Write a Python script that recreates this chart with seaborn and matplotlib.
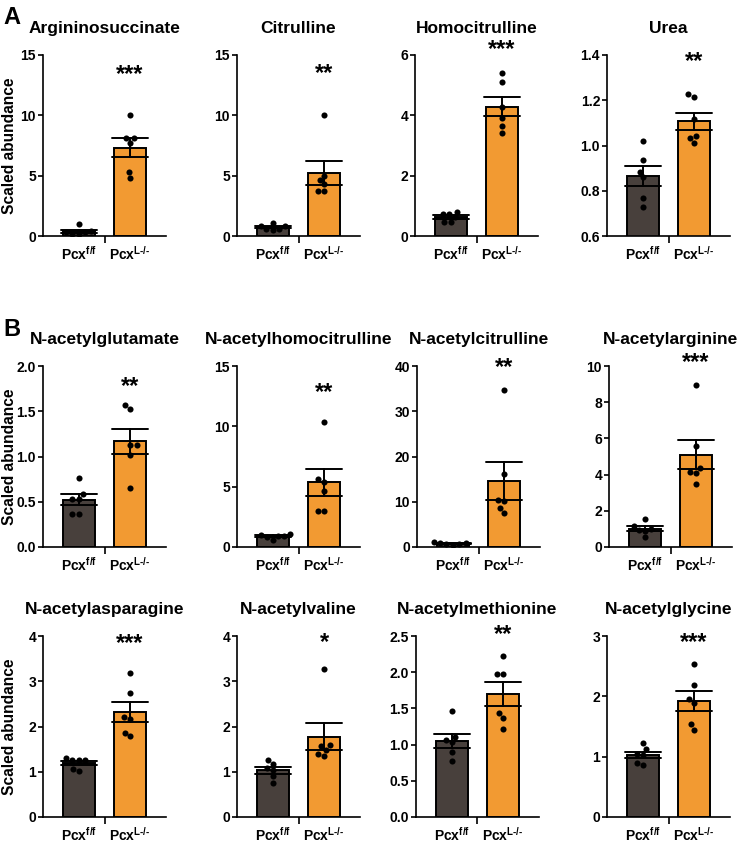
import numpy as np
import pandas as pd
import matplotlib
matplotlib.use("Agg")
import matplotlib.pyplot as plt
import matplotlib.transforms as mtransforms
import seaborn as sns

# ---------------- data ----------------
groups = ["Pcx f/f", "Pcx L-/-"]
group_labels = ["Pcx$^{\\mathbf{f/f}}$", "Pcx$^{\\mathbf{L\u2010/\u2010}}$"]

metabolites = ["Argininosuccinate", "Citrulline", "Homocitrulline", "Urea",
               "N-acetylglutamate", "N-acetylhomocitrulline", "N-acetylcitrulline", "N-acetylarginine",
               "N-acetylasparagine", "N-acetylvaline", "N-acetylmethionine", "N-acetylglycine"]
significance = ["***", "**", "***", "**",
                "**", "**", "**", "***",
                "***", "*", "**", "***"]

argininosuccinate_wt = [1.0, 0.45, 0.35, 0.3, 0.2, 0.15]
argininosuccinate_ko = [10.0, 8.1, 8.1, 7.7, 5.3, 4.8]
citrulline_wt = [1.1, 0.85, 0.85, 0.6, 0.55, 0.5]
citrulline_ko = [10.0, 5.0, 4.64, 4.28, 3.76, 3.76]
homocitrulline_wt = [0.81, 0.73, 0.72, 0.62, 0.48, 0.46]
homocitrulline_ko = [5.39, 5.11, 4.28, 3.91, 3.64, 3.41]
urea_wt = [1.018, 0.935, 0.883, 0.86, 0.768, 0.728]
urea_ko = [1.227, 1.215, 1.117, 1.04, 1.031, 1.009]
acglutamate_wt = [0.76, 0.583, 0.528, 0.528, 0.365, 0.365]
acglutamate_ko = [1.528, 1.565, 1.122, 1.122, 1.018, 0.657]
achomocitrulline_wt = [1.1, 1.0, 0.9, 0.9, 0.85, 0.6]
achomocitrulline_ko = [10.35, 5.62, 5.42, 4.65, 3.02, 3.02]
accitrulline_wt = [1.2, 0.9, 0.8, 0.7, 0.6, 0.5]
accitrulline_ko = [34.76, 16.24, 10.4, 10.2, 8.7, 7.6]
acarginine_wt = [1.55, 1.16, 1.0, 0.95, 0.9, 0.53]
acarginine_ko = [8.95, 5.59, 4.39, 4.15, 4.11, 3.47]
acasparagine_wt = [1.27, 1.3, 1.27, 1.26, 1.02, 1.05]
acasparagine_ko = [3.19, 2.74, 2.17, 2.21, 1.86, 1.79]
acvaline_wt = [1.26, 1.18, 1.08, 1.04, 0.9, 0.75]
acvaline_ko = [3.27, 1.59, 1.57, 1.48, 1.35, 1.39]
acmethionine_wt = [1.47, 1.06, 1.1, 1.03, 0.9, 0.77]
acmethionine_ko = [2.23, 1.97, 1.97, 1.43, 1.37, 1.21]
acglycine_wt = [1.22, 1.12, 1.05, 1.03, 0.86, 0.9]
acglycine_ko = [2.53, 2.19, 1.96, 1.89, 1.54, 1.45]

wt_values = [argininosuccinate_wt, citrulline_wt, homocitrulline_wt, urea_wt,
             acglutamate_wt, achomocitrulline_wt, accitrulline_wt, acarginine_wt,
             acasparagine_wt, acvaline_wt, acmethionine_wt, acglycine_wt]
ko_values = [argininosuccinate_ko, citrulline_ko, homocitrulline_ko, urea_ko,
             acglutamate_ko, achomocitrulline_ko, accitrulline_ko, acarginine_ko,
             acasparagine_ko, acvaline_ko, acmethionine_ko, acglycine_ko]

y_ranges = [(0, 15), (0, 15), (0, 6), (0.6, 1.4),
            (0, 2.0), (0, 15), (0, 40), (0, 10),
            (0, 4), (0, 4), (0, 2.5), (0, 3)]
y_steps = [5, 5, 2, 0.2, 0.5, 5, 10, 2, 1, 1, 0.5, 1]
y_decimals = [0, 0, 0, 1, 1, 0, 0, 0, 0, 0, 1, 0]

# ---------------- style ----------------
sns.set_style("ticks")
plt.rcParams["font.family"] = ["Liberation Sans", "DejaVu Sans"]
plt.rcParams["font.weight"] = "bold"
plt.rcParams["text.color"] = "black"
plt.rcParams["axes.labelcolor"] = "black"
plt.rcParams["xtick.color"] = "black"
plt.rcParams["ytick.color"] = "black"
plt.rcParams["mathtext.fontset"] = "custom"
plt.rcParams["mathtext.rm"] = "Liberation Sans:bold"
plt.rcParams["mathtext.bf"] = "Liberation Sans:bold"
plt.rcParams["mathtext.it"] = "Liberation Sans:bold"

colors = ["#48403c", "#f29a32"]

W, H = 738, 844
fig = plt.figure(figsize=(W / 100, H / 100), dpi=100)

rows = [(55, 236, [43, 237, 415, 607]),
        (366, 547, [43, 237, 417, 609]),
        (636, 817, [43, 237, 416, 607])]
axw = 123

# star y positions (data units) per panel
star_y = [13.7, 13.8, 6.3, 1.39, 1.82, 13.1, 40.5, 10.44, 3.92, 3.95, 2.58, 2.96]

for i, name in enumerate(metabolites):
    r, c = divmod(i, 4)
    top, bot, lefts = rows[r]
    ax = fig.add_axes([lefts[c] / W, 1 - bot / H, axw / W, (bot - top) / H])
    df = pd.DataFrame({
        "group": [groups[0]] * len(wt_values[i]) + [groups[1]] * len(ko_values[i]),
        "value": list(wt_values[i]) + list(ko_values[i]),
    })
    sns.barplot(data=df, x="group", y="value", hue="group", order=groups, hue_order=groups,
                palette=colors, saturation=1, errorbar="se", capsize=0.7, width=0.63,
                edgecolor="black", linewidth=1.4, legend=False,
                err_kws={"color": "black", "linewidth": 1.4}, ax=ax)
    sns.swarmplot(data=df, x="group", y="value", order=groups, color="black",
                  size=4.4, ax=ax, zorder=5)
    ax.set_xlim(-0.7, 1.7)
    lo, hi = y_ranges[i]
    ax.set_ylim(lo, hi)
    ticks = np.arange(lo, hi + y_steps[i] / 2, y_steps[i])
    ax.set_yticks(ticks)
    ax.set_yticklabels([f"{t:.{y_decimals[i]}f}" for t in ticks], fontsize=10, fontweight="bold")
    ax.set_xticks([0, 1])
    ax.set_xticklabels(group_labels, fontsize=10, fontweight="bold")
    ax.set_xticks([0.5], minor=True)
    ax.tick_params(axis="x", which="major", length=0, pad=6)
    ax.tick_params(axis="x", which="minor", length=5, width=1.2, color="black")
    ax.tick_params(axis="y", length=3.5, width=1.2, color="black", pad=1.5)
    ax.set_xlabel("")
    if c == 0:
        ax.set_ylabel("Scaled abundance", fontsize=11.2, fontweight="bold")
        ax.yaxis.set_label_coords(-0.21, 0.5)
    else:
        ax.set_ylabel("")
    ax.set_title(name, fontsize=12.5, fontweight="bold", pad=16)
    for sp in ["left", "bottom"]:
        ax.spines[sp].set_linewidth(1.2)
        ax.spines[sp].set_color("black")
    sns.despine(ax=ax)
    tr = mtransforms.offset_copy(ax.transData, fig=fig, x=0, y=-4, units="dots")
    ax.text(1, star_y[i], significance[i], ha="center", va="center",
            fontsize=17, fontweight="bold", clip_on=False, transform=tr)

fig.text(3 / W, 1 - 6 / H, "A", fontsize=17, fontweight="bold", va="top", ha="left")
fig.text(3 / W, 1 - 318 / H, "B", fontsize=17, fontweight="bold", va="top", ha="left")

fig.savefig("out.png", dpi=100)
